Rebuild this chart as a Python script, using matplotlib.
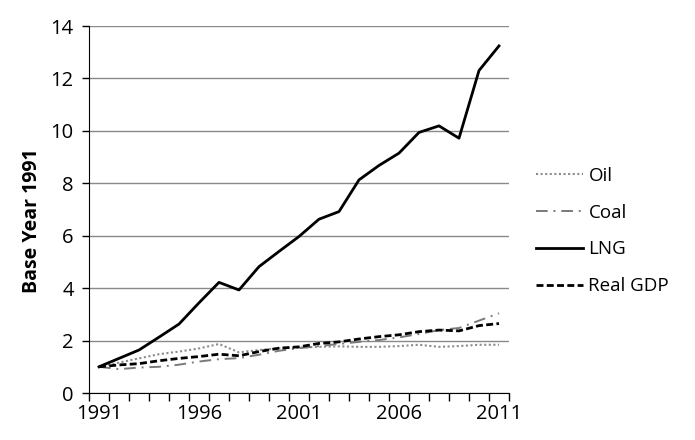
import matplotlib
matplotlib.use("Agg")
import matplotlib.pyplot as plt
import numpy as np

years = list(range(1991, 2012))
tick_years = ["1991", "1996", "2001", "2006", "2011"]

oil = [1.0, 1.16, 1.32, 1.48, 1.58, 1.70, 1.87, 1.55, 1.64, 1.71, 1.73,
       1.76, 1.78, 1.76, 1.76, 1.79, 1.84, 1.76, 1.79, 1.84, 1.84]
coal = [1.0, 0.91, 0.97, 1.00, 1.08, 1.20, 1.29, 1.33, 1.46, 1.61, 1.71,
        1.79, 1.87, 1.95, 2.02, 2.12, 2.25, 2.40, 2.48, 2.76, 3.04]
lng = [1.0, 1.32, 1.64, 2.13, 2.63, 3.44, 4.22, 3.93, 4.82, 5.40, 5.97,
       6.63, 6.92, 8.13, 8.68, 9.15, 9.94, 10.19, 9.72, 12.30, 13.24]
gdp = [1.0, 1.07, 1.12, 1.23, 1.32, 1.39, 1.48, 1.42, 1.58, 1.71, 1.76,
       1.89, 1.95, 2.06, 2.15, 2.22, 2.34, 2.40, 2.37, 2.57, 2.65]

plt.rcParams['font.family'] = ['Open Sans', 'DejaVu Sans']

fig = plt.figure(figsize=(6.95, 4.40), dpi=100)
ax = fig.add_axes([89/695, 1-393/440, 420/695, 367/440])

x = np.arange(len(years))
l_oil, = ax.plot(x, oil, color='#8c8c8c', lw=1.5, linestyle=(0, (1, 1.2)), label='Oil')
l_coal, = ax.plot(x, coal, color='#7a7a7a', lw=1.4, linestyle=(0, (6, 3, 1, 3)), label='Coal')
l_lng, = ax.plot(x, lng, color='black', lw=2.0, label='LNG')
l_gdp, = ax.plot(x, gdp, color='black', lw=2.0, linestyle=(0, (2.5, 1.2)), label='Real GDP')

ax.set_xlim(-0.5, len(years) - 0.5)
ax.set_ylim(0, 14)
ax.set_yticks(np.arange(0, 15, 2))
ax.yaxis.grid(True, color='#8a8a8a', lw=1.0)
ax.set_axisbelow(True)

ax.set_xticks(np.arange(-0.5, len(years), 1))
ax.set_xticklabels([])
ax.set_xticks([years.index(int(t)) for t in tick_years], minor=True)
ax.set_xticklabels(tick_years, minor=True)
ax.tick_params(axis='x', which='major', length=6, width=1, color='black', direction='out')
ax.tick_params(axis='x', which='minor', length=0, labelsize=14.5, pad=8)
ax.tick_params(axis='y', length=5, width=1, direction='out', labelsize=14.5, pad=6)

for s in ['top', 'right']:
    ax.spines[s].set_visible(False)
ax.spines['left'].set_color('black')
ax.spines['bottom'].set_color('black')

ax.set_ylabel('Base Year 1991', fontsize=14, fontweight='bold')
ax.yaxis.set_label_coords(-0.112, 0.47)

fig.legend(handles=[l_oil, l_coal, l_lng, l_gdp], loc='center left',
           bbox_to_anchor=(519/695, 1-231/440), frameon=False, fontsize=13.5,
           handlelength=2.5, handletextpad=0.3, labelspacing=1.0)

fig.savefig('out.png', dpi=100)
